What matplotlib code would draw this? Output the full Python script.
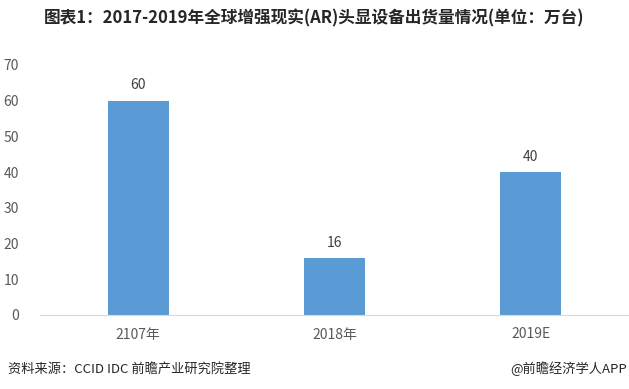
import matplotlib.pyplot as plt

plt.rcParams["font.family"] = ["Noto Sans CJK SC", "DejaVu Sans"]

years = ["2107年", "2018年", "2019E"]
shipments = [60, 16, 40]
y_ticks = [0, 10, 20, 30, 40, 50, 60, 70]

BAR_COLOR = "#5B9BD5"
TEXT_COLOR = "#595959"

fig = plt.figure(figsize=(6.29, 3.89), dpi=100)
ax = fig.add_axes([40 / 629, 74 / 389, 589 / 629, 250 / 389])

x = range(len(years))
bars = ax.bar(x, shipments, width=0.31, color=BAR_COLOR)
for rect, val in zip(bars, shipments):
    ax.annotate(str(val), (rect.get_x() + rect.get_width() / 2, val),
                xytext=(0, 6), textcoords="offset points",
                ha="center", va="bottom", fontsize=10, color="#404040")

ax.set_xlim(-0.5, len(years) - 0.5)
ax.set_ylim(0, 70)
ax.set_yticks(y_ticks)
ax.set_xticks(list(x))
ax.set_xticklabels(years)
ax.tick_params(axis="both", length=0, labelsize=10, labelcolor=TEXT_COLOR)
ax.tick_params(axis="x", pad=9)
ax.tick_params(axis="y", pad=15)
for side in ["top", "right", "left"]:
    ax.spines[side].set_visible(False)
ax.spines["bottom"].set_color("#D9D9D9")

fig.text(0.5, 1 - 18 / 389, "图表1：2017-2019年全球增强现实(AR)头显设备出货量情况(单位：万台)",
         ha="center", va="center", fontsize=12, fontweight="bold", color="#262626")
fig.text(8 / 629, 1 - 369 / 389, "资料来源：CCID IDC 前瞻产业研究院整理",
         ha="left", va="center", fontsize=9.5, color="#262626")
fig.text(627 / 629, 1 - 369 / 389, "@前瞻经济学人APP",
         ha="right", va="center", fontsize=9.5, color="#262626")

fig.savefig("out.png", dpi=100)
